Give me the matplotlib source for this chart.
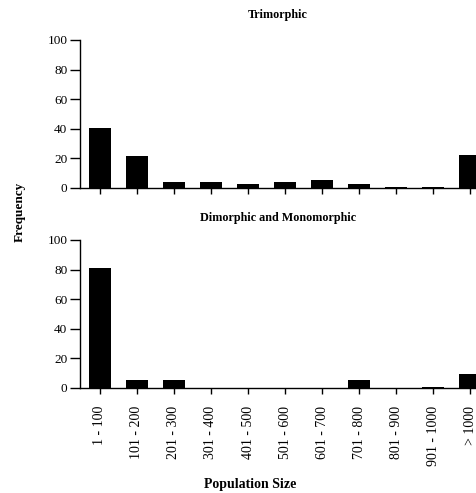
import matplotlib.pyplot as plt
import numpy as np

plt.rcParams['font.family'] = ['Liberation Serif', 'DejaVu Serif']

# population size classes
size_classes = ['1 - 100', '101 - 200', '201 - 300', '301 - 400', '401 - 500',
                '501 - 600', '601 - 700', '701 - 800', '801 - 900',
                '901 - 1000', '> 1000']
# frequencies
trimorphic = [40.5, 21.8, 3.8, 3.8, 2.9, 4.2, 5.6, 2.9, 0.5, 0.5, 22.5]
di_mono = [81, 5.4, 5.4, 0, 0, 0, 0, 5.4, 0, 0.5, 9.2]
yticks = [0, 20, 40, 60, 80, 100]

fig = plt.figure(figsize=(4.76, 4.93), dpi=100)
ax1 = fig.add_axes([0.168, 0.6187, 0.832, 0.3002])
ax2 = fig.add_axes([0.168, 0.213, 0.832, 0.3002])

x = np.arange(len(size_classes))

def style(ax, title):
    ax.set_ylim(0, 100)
    ax.set_xlim(-0.54, 10.16)
    ax.set_yticks(yticks)
    ax.set_xticks(x)
    ax.spines['top'].set_visible(False)
    ax.spines['right'].set_visible(False)
    ax.spines['left'].set_linewidth(1.0)
    ax.spines['bottom'].set_linewidth(1.0)
    ax.tick_params(axis='y', length=7, width=1, labelsize=9.5, pad=2)
    ax.tick_params(axis='x', length=4, width=1)
    ax.set_title(title, fontsize=8.7, fontweight='bold', pad=16)

ax1.bar(x, trimorphic, width=0.6, color='black')
style(ax1, 'Trimorphic')
ax1.set_xticklabels([])

ax2.bar(x, di_mono, width=0.6, color='black')
style(ax2, 'Dimorphic and Monomorphic')
ax2.set_title('Dimorphic and Monomorphic', fontsize=8.7, fontweight='bold', pad=14)
ax2.set_xticklabels(size_classes, rotation=90, fontsize=10)
ax2.tick_params(axis='x', pad=9)

fig.text(0.042, 0.57, 'Frequency', rotation=90, fontsize=9.5, fontweight='bold',
         ha='center', va='center')
fig.text(0.525, 0.017, 'Population Size', fontsize=10, fontweight='bold',
         ha='center', va='center')

fig.savefig('out.png', dpi=100)
